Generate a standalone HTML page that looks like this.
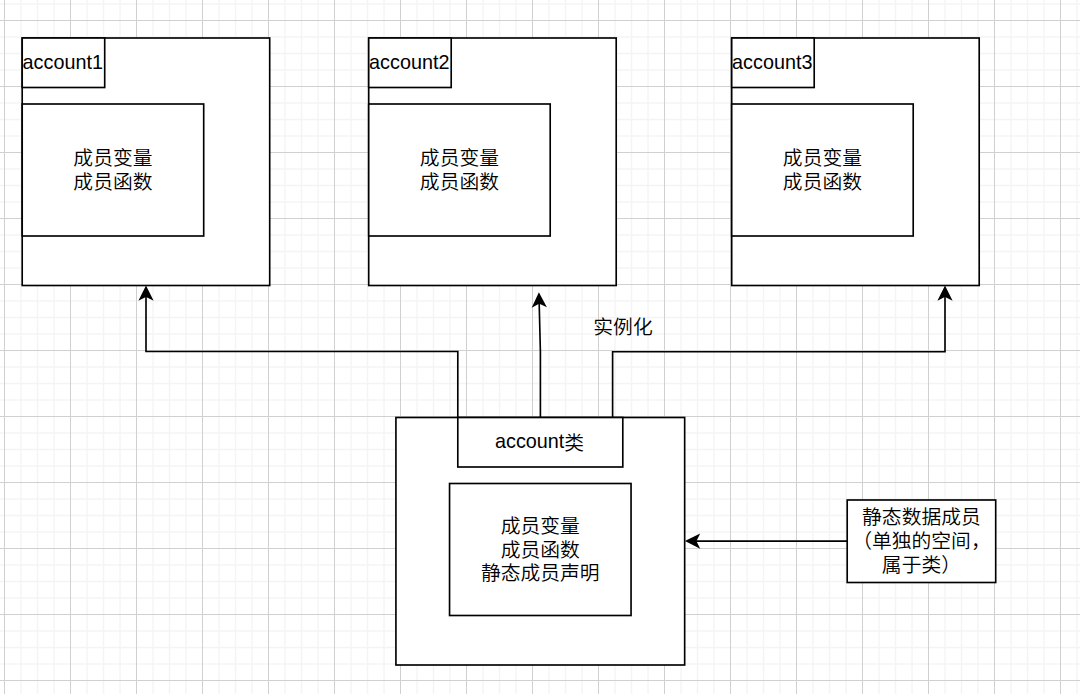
<!DOCTYPE html><html lang="zh"><head><meta charset="utf-8"><title>account</title><style>
html,body{margin:0;padding:0;background:#fff;}
body{width:1080px;height:694px;position:relative;overflow:hidden;font-family:"Liberation Sans","Noto Sans CJK SC",sans-serif;font-size:19.8px;line-height:23.76px;color:#000;font-weight:350;}
.t{position:absolute;display:flex;align-items:center;justify-content:center;text-align:center;white-space:nowrap;}
.c{position:relative;top:1.4px;}
</style></head><body>
<svg width="1080" height="694" viewBox="0 0 1080 694" style="position:absolute;left:0;top:0">
<defs><pattern id="grid" x="4" y="20" width="66" height="66" patternUnits="userSpaceOnUse"><path d="M 0 17 H 66 M 0 33.5 H 66 M 0 50 H 66 M 17 0 V 66 M 33.5 0 V 66 M 50 0 V 66" fill="none" stroke="#d0d0d0" stroke-opacity="0.24" stroke-width="1.4"/><path d="M 0 0.5 H 66 M 0.5 0 V 66" fill="none" stroke="#d0d0d0" stroke-width="1"/></pattern></defs>
<rect width="1080" height="694" fill="#ffffff"/><rect width="1080" height="694" fill="url(#grid)"/>
<g fill="#ffffff" stroke="#000000" stroke-width="1.65">
<rect x="22.20" y="38.00" width="247.50" height="247.50"/>
<rect x="22.20" y="38.00" width="82.50" height="49.50"/>
<rect x="22.20" y="104.00" width="181.50" height="132.00"/>
<rect x="368.70" y="38.00" width="247.50" height="247.50"/>
<rect x="368.70" y="38.00" width="82.50" height="49.50"/>
<rect x="368.70" y="104.00" width="181.50" height="132.00"/>
<rect x="731.70" y="38.00" width="247.50" height="247.50"/>
<rect x="731.70" y="38.00" width="82.50" height="49.50"/>
<rect x="731.70" y="104.00" width="181.50" height="132.00"/>
<rect x="395.92" y="417.50" width="288.75" height="247.50"/>
<rect x="457.80" y="417.50" width="165.00" height="49.50"/>
<rect x="449.55" y="483.50" width="181.50" height="132.00"/>
<rect x="847.20" y="500.00" width="148.50" height="82.50"/>
</g>
<g fill="none" stroke="#000000" stroke-width="1.65" stroke-miterlimit="10">
<path d="M 457.80 417.30 L 457.80 351.50 L 146.00 351.50 L 146.00 296.01"/>
<path d="M 540.40 417.30 L 540.40 351.50 L 539.17 302.70"/>
<path d="M 612.60 417.30 L 612.60 351.75 L 945.00 351.70 L 945.00 296.01"/>
<path d="M 847.20 541.10 L 695.48 541.10"/>
</g>
<g fill="#000000" stroke="#000000" stroke-width="1.65" stroke-miterlimit="10">
<polygon points="146.00,287.34 151.78,298.89 146.00,296.01 140.22,298.89"/>
<polygon points="538.95,294.04 545.01,305.44 539.17,302.70 533.47,305.74"/>
<polygon points="945.00,287.34 950.77,298.89 945.00,296.01 939.23,298.89"/>
<polygon points="686.81,541.10 698.36,535.33 695.48,541.10 698.36,546.88"/>
</g>
</svg>
<div class="t" style="left:21.50px;top:38.10px;width:82.50px;height:49.50px"><div>account1</div></div>
<div class="t" style="left:22.20px;top:104.90px;width:181.50px;height:132.00px"><div>成员变量<br>成员函数</div></div>
<div class="t" style="left:368.00px;top:38.10px;width:82.50px;height:49.50px"><div>account2</div></div>
<div class="t" style="left:368.70px;top:104.90px;width:181.50px;height:132.00px"><div>成员变量<br>成员函数</div></div>
<div class="t" style="left:731.00px;top:38.10px;width:82.50px;height:49.50px"><div>account3</div></div>
<div class="t" style="left:731.70px;top:104.90px;width:181.50px;height:132.00px"><div>成员变量<br>成员函数</div></div>
<div class="t" style="left:457.10px;top:417.50px;width:165.00px;height:49.50px"><div>account<span class="c">类</span></div></div>
<div class="t" style="left:449.55px;top:484.40px;width:181.50px;height:132.00px"><div>成员变量<br>成员函数<br>静态成员声明</div></div>
<div class="t" style="left:847.20px;top:500.90px;width:148.50px;height:82.50px"><div>静态数据成员<br>（单独的空间，<br>属于类）</div></div>
<div class="t" style="left:573.00px;top:312.90px;width:100.00px;height:30.00px"><div>实例化</div></div>
</body></html>
